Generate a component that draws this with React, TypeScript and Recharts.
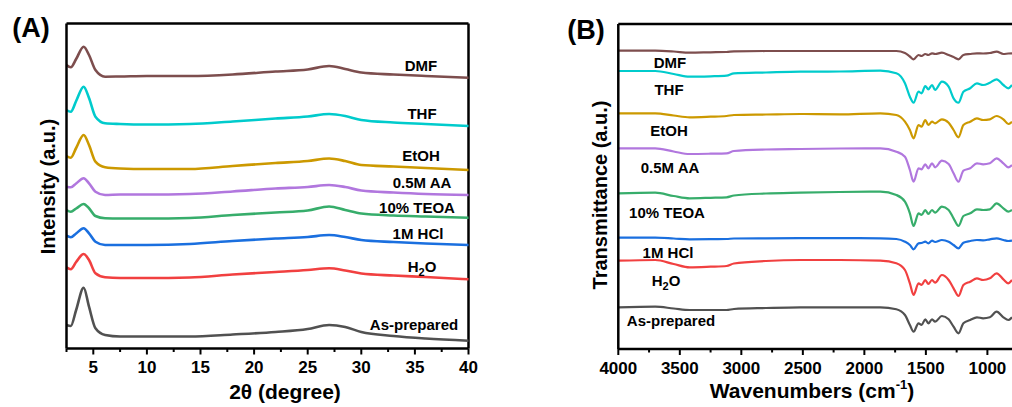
import React from "react";
import { Line, LineChart, ReferenceLine, XAxis, YAxis } from "recharts";

const FONT = "'Liberation Sans', Arial, sans-serif";

// (A) XRD patterns, stacked, intensity in a.u.
const theta = [2.5, 2.9, 3.4, 4.1, 4.6, 5.2, 6.1, 7.5, 10, 14, 18, 22, 25, 27, 28.5, 30, 33, 36, 40];
const xrdDMF = [285, 282.7, 291, 303.3, 295, 280, 273.3, 273.5, 274, 274, 275.5, 278.5, 280.5, 284, 281, 277.5, 275.5, 274, 272.3];
const xrdTHF = [240, 238.3, 249, 263.3, 252, 233.3, 226.7, 226, 225.5, 226, 228.5, 231.5, 233.5, 236, 234, 230, 227.5, 226, 224];
const xrdEtOH = [194, 192.3, 202, 215, 205, 188.3, 182.7, 181.5, 181, 181, 184, 187, 189, 191.5, 189, 185, 183.5, 182, 180];
const xrdAA = [163.3, 162.7, 166.5, 171.7, 166.7, 158.3, 155, 155.5, 155.5, 156, 158.5, 161.5, 163, 165, 163, 159.5, 157.5, 156, 155];
const xrdTEOA = [140, 138.3, 141.5, 146, 141.7, 134, 131.7, 131.5, 131.5, 132, 135, 137.5, 139.5, 143.5, 140, 136.5, 134.5, 133.5, 132.3];
const xrdHCl = [114.3, 112.7, 116.5, 121.7, 116.7, 108.3, 105, 105, 105, 106, 109, 111.5, 113, 115, 113, 110, 108, 106.5, 105];
const xrdH2O = [82.7, 80.7, 88, 96, 90, 76.7, 72.7, 72, 72, 72.5, 75.5, 78, 80, 81.7, 79.5, 76.5, 74.5, 73, 70.7];
const xrdAsPrep = [25, 24, 40, 62.3, 43.3, 21.7, 15, 13.5, 13.5, 13.5, 15.5, 18, 21, 25, 23, 18, 14, 11.5, 9.3];

// (B) FTIR spectra, stacked, transmittance in a.u.
const wavenumber = [4000, 3700, 3550, 3420, 3250, 3120, 3060, 2800, 2520, 2200, 1870, 1740, 1670, 1630, 1600, 1560, 1535, 1505, 1480, 1450, 1425, 1370, 1315, 1275, 1235, 1195, 1140, 1085, 1035, 980, 925, 870, 830, 800];
const irDMF = [298.3, 298.3, 297.5, 296.3, 296.7, 297, 297.7, 298, 298, 298, 298, 298, 296, 292.5, 289.7, 294, 293, 295, 294, 295.7, 295, 296.3, 294, 292, 289.7, 294, 295, 295.7, 295.5, 296, 297.3, 295, 295.5, 295.7];
const irTHF = [278, 278, 275, 272.3, 272.7, 273.3, 275.7, 276.5, 277.3, 277.5, 278.3, 275.7, 265.7, 252.3, 246.3, 257.3, 255.7, 263, 259.7, 264, 259, 267.3, 262.3, 250.7, 246.3, 257.3, 260.7, 265.7, 264, 266.3, 269.7, 264, 260.7, 264];
const irEtOH = [235.7, 235.7, 233.5, 231.7, 232.3, 233, 234, 234.5, 235, 234.7, 235.7, 234, 227.3, 219, 210.7, 224, 222.3, 229, 224, 227.3, 225.7, 229.7, 226.3, 219, 211.7, 224, 227.3, 230.7, 229, 229.7, 233, 229.7, 225, 227.3];
const irAA = [200.7, 200.7, 197.5, 195, 195.3, 195.7, 198, 199.5, 200, 200.5, 200.7, 197.3, 192.3, 179, 167.3, 180.7, 179.7, 184.7, 180.7, 185.7, 181.7, 188.3, 185, 175.7, 167.3, 178.3, 180.7, 185.7, 184.7, 185.7, 190.7, 185.7, 181.7, 184];
const irTEOA = [155.7, 156.3, 153, 150.7, 151.2, 151.7, 153.5, 155.5, 156.3, 157, 157.3, 154, 147.3, 135.7, 123, 135.7, 134, 139, 135, 139, 136.3, 142.3, 139, 130.7, 123, 133, 135.7, 139.7, 139, 139.7, 145.7, 140.7, 137.3, 139];
const irHCl = [111.3, 111.3, 110.5, 109.7, 109.8, 110, 110.5, 110.7, 110.8, 110.8, 110.7, 110, 107.3, 104, 99.7, 105.7, 106, 107.3, 105.7, 108.3, 107, 109, 107.3, 104, 100.7, 106.3, 108, 109, 108.7, 109.7, 110.7, 109, 108, 108.3];
const irH2O = [88.3, 89, 85, 81.7, 82.3, 83, 85.5, 88, 89, 89, 88.3, 85.7, 79, 65.7, 54, 65.7, 64, 69, 65, 69, 66.3, 74, 69, 60.7, 53, 64, 67.3, 70.7, 69, 70.7, 75.7, 69.7, 65.7, 69];
const irAsPrep = [41.7, 42.3, 40.5, 39, 39, 39, 40, 41, 41.7, 41.7, 41.7, 39.7, 34, 24, 17.3, 25.7, 24, 29.7, 25.7, 29.7, 27.3, 33, 29.7, 22.3, 15.7, 25.7, 29, 31.7, 30.7, 31.7, 37.3, 31.7, 29, 31.7];

const xrdTicks = [2.5, 5, 7.5, 10, 12.5, 15, 17.5, 20, 22.5, 25, 27.5, 30, 32.5, 35, 37.5, 40];
const xrdMajor = [5, 10, 15, 20, 25, 30, 35, 40];
const irTicks = [4000, 3750, 3500, 3250, 3000, 2750, 2500, 2250, 2000, 1750, 1500, 1250, 1000];
const irMajor = [4000, 3500, 3000, 2500, 2000, 1500, 1000];

const series = [
  { key: "dmf", name: "DMF", color: "#7D4E4E", xrd: xrdDMF, ir: irDMF },
  { key: "thf", name: "THF", color: "#00CBCC", xrd: xrdTHF, ir: irTHF },
  { key: "etoh", name: "EtOH", color: "#CC9900", xrd: xrdEtOH, ir: irEtOH },
  { key: "aa", name: "0.5M AA", color: "#B177DE", xrd: xrdAA, ir: irAA },
  { key: "teoa", name: "10% TEOA", color: "#37AD6B", xrd: xrdTEOA, ir: irTEOA },
  { key: "hcl", name: "1M HCl", color: "#1A6FDF", xrd: xrdHCl, ir: irHCl },
  { key: "h2o", name: "H2O", color: "#F14040", xrd: xrdH2O, ir: irH2O },
  { key: "asprep", name: "As-prepared", color: "#515151", xrd: xrdAsPrep, ir: irAsPrep },
];

// label anchor spots (center x, baseline y) for each panel
const labelsA: [number, number][] = [[421, 71], [422, 119.3], [421, 161], [422, 187.7], [417, 212.7], [418, 239.3], [422, 271.7], [414, 330]];
const labelsB: [number, number][] = [[670, 67.7], [669, 95], [669, 136], [670, 173.3], [667, 218.3], [668, 258.3], [666, 286], [671, 326]];

const xrdData = theta.map((t, i) => {
  const row: { [k: string]: number } = { x: t };
  series.forEach((s) => (row[s.key] = s.xrd[i]));
  return row;
});

const irData = wavenumber.map((w, i) => {
  const row: { [k: string]: number } = { x: w };
  series.forEach((s) => (row[s.key] = s.ir[i]));
  return row;
});

const AxisTick = (props: any) => {
  const { x, y, payload, major } = props;
  const isMajor = major.includes(payload.value);
  return (
    <g>
      <line x1={x} x2={x} y1={y} y2={y + (isMajor ? 6 : 3.5)} stroke="#000" strokeWidth={2} />
      {isMajor && (
        <text x={x} y={y + 24.5} textAnchor="middle" fontSize={17} fontWeight="bold" fontFamily={FONT} fill="#000">
          {payload.value}
        </text>
      )}
    </g>
  );
};

const SeriesLabel = ({ name, x, y }: { name: string; x: number; y: number }) => {
  if (name === "H2O") {
    return (
      <text x={x} y={y} textAnchor="middle" fontSize={15} fontWeight="bold" fontFamily={FONT}>
        H<tspan fontSize={11} dy={4}>2</tspan><tspan dy={-4}>O</tspan>
      </text>
    );
  }
  return (
    <text x={x} y={y} textAnchor="middle" fontSize={15} fontWeight="bold" fontFamily={FONT}>
      {name}
    </text>
  );
};

const App = () => {
  return (
    <div style={{ position: "absolute", left: 0, top: 0, width: 1012, height: 407, background: "#fff", overflow: "hidden" }}>
      <div style={{ position: "absolute", left: 0, top: 0 }}>
        <LineChart width={500} height={407} data={xrdData} margin={{ top: 23.5, right: 31.5, bottom: 57.5, left: 65.5 }}>
          <XAxis
            dataKey="x"
            type="number"
            domain={[2.5, 40]}
            ticks={xrdTicks}
            interval={0}
            height={1}
            tickSize={0}
            tickMargin={0}
            tickLine={false}
            axisLine={{ stroke: "#000", strokeWidth: 2.5 }}
            tick={(p: any) => <AxisTick {...p} major={xrdMajor} />}
          />
          <YAxis type="number" domain={[1.5, 326.5]} width={1} tick={false} tickLine={false} axisLine={{ stroke: "#000", strokeWidth: 2.5 }} />
          <ReferenceLine y={326.5} stroke="#000" strokeWidth={2.5} />
          <ReferenceLine x={40} stroke="#000" strokeWidth={2.5} />
          {series.map((s) => (
            <Line key={s.key} type="monotone" dataKey={s.key} stroke={s.color} strokeWidth={2.6} dot={false} isAnimationActive={false} />
          ))}
        </LineChart>
      </div>
      <div style={{ position: "absolute", left: 520, top: 0 }}>
        <LineChart width={492} height={407} data={irData} margin={{ top: 24, right: 0, bottom: 57, left: 97.3 }}>
          <XAxis
            dataKey="x"
            type="number"
            domain={[800, 4000]}
            reversed
            ticks={irTicks}
            interval={0}
            height={1}
            tickSize={0}
            tickMargin={0}
            tickLine={false}
            axisLine={{ stroke: "#000", strokeWidth: 2.5 }}
            tick={(p: any) => <AxisTick {...p} major={irMajor} />}
          />
          <YAxis type="number" domain={[0, 325]} width={1} tick={false} tickLine={false} axisLine={{ stroke: "#000", strokeWidth: 2.5 }} />
          <ReferenceLine y={325} stroke="#000" strokeWidth={2.5} />
          {series.map((s) => (
            <Line key={s.key} type="monotone" dataKey={s.key} stroke={s.color} strokeWidth={2.2} dot={false} isAnimationActive={false} />
          ))}
        </LineChart>
      </div>
      <svg width={1012} height={407} style={{ position: "absolute", left: 0, top: 0, pointerEvents: "none" }}>
        <g fontFamily={FONT} fontWeight="bold" fill="#000">
          <text x={31} y={36.5} textAnchor="middle" fontSize={27}>(A)</text>
          <text x={586} y={38.5} textAnchor="middle" fontSize={27}>(B)</text>
          <text x={48} y={186.5} textAnchor="middle" dominantBaseline="central" fontSize={20} transform="rotate(-90 48 186.5)">
            Intensity (a.u.)
          </text>
          <text x={600} y={195} textAnchor="middle" dominantBaseline="central" fontSize={20} transform="rotate(-90 600 195)">
            Transmittance (a.u.)
          </text>
          <text x={285} y={398.5} textAnchor="middle" fontSize={21}>2θ (degree)</text>
          <text x={812} y={398} textAnchor="middle" fontSize={21}>
            Wavenumbers (cm<tspan fontSize={13} dy={-9}>-1</tspan><tspan dy={9}>)</tspan>
          </text>
          {series.map((s, i) => (
            <SeriesLabel key={"a" + s.key} name={s.name} x={labelsA[i][0]} y={labelsA[i][1]} />
          ))}
          {series.map((s, i) => (
            <SeriesLabel key={"b" + s.key} name={s.name} x={labelsB[i][0]} y={labelsB[i][1]} />
          ))}
        </g>
      </svg>
    </div>
  );
};

export default App;
